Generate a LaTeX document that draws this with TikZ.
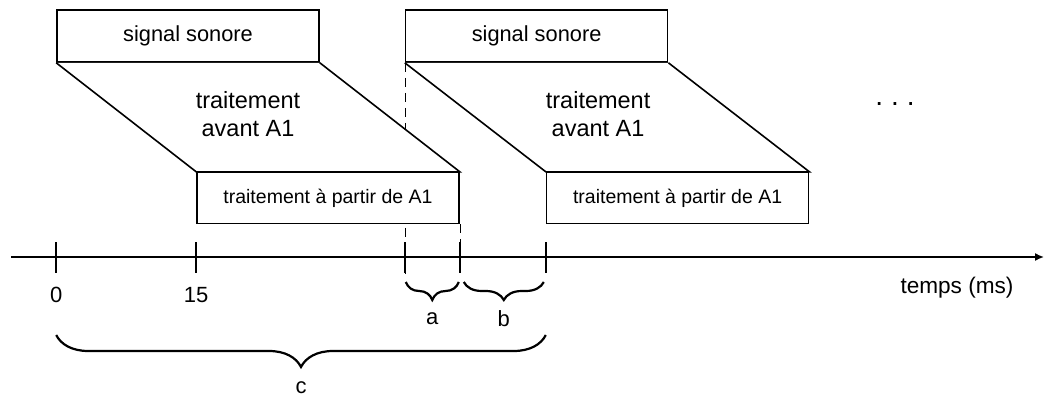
\documentclass[tikz,border=0pt]{standalone}
\usepackage{fontspec}
\setmainfont{Liberation Sans}
\usetikzlibrary{positioning,calc,arrows.meta,decorations.pathreplacing}
\pgfdeclarelayer{background}
\pgfsetlayers{background,main}
\tikzset{
  box/.style={draw,fill=white,minimum width=262pt,inner sep=0pt},
  sig/.style={box,minimum height=52pt,font=\fontsize{21.8}{25}\selectfont},
  trt/.style={box,minimum height=51pt,font=\fontsize{19.5}{23}\selectfont},
  lbl/.style={font=\fontsize{22}{28}\selectfont},
  avt/.style={align=center,font=\fontsize{23.5}{28}\selectfont},
  brc/.style={decorate,decoration={brace,mirror,amplitude=#1},line width=2.2pt},
  dsh/.style={dash pattern=on 9pt off 6pt},
}

\begin{document}
\begin{tikzpicture}[x=1pt,y=-1pt,line width=1.6pt]
\useasboundingbox (0,0) rectangle (1045,396);
% blocs
\node[sig] (sig1) at (188,36) {signal sonore};
\node[trt,below right=109pt and 140pt of sig1.south west] (trt1) {traitement \`a partir de A1};
\node[sig,right=85pt of sig1] (sig2) {signal sonore};
\node[trt,below right=109pt and 141pt of sig2.south west] (trt2) {traitement \`a partir de A1};
\filldraw[fill=white] (sig1.south west) -- (trt1.north west) -- (trt1.north east) -- (sig1.south east);
\filldraw[fill=white] (sig2.south west) -- (trt2.north west) -- (trt2.north east) -- (sig2.south east);
\node[avt] (av1) at ($(sig1.south)!0.5!(trt1.north)+(-10,-3)$) {traitement\\avant A1};
\node[avt] (av2) at ($(sig2.south)!0.5!(trt2.north)+(-9,-3)$) {traitement\\avant A1};
\node[font=\fontsize{28}{30}\selectfont,anchor=base] (dots) at (895,106) {.\hspace{8pt}.\hspace{8pt}.};
% axe
\coordinate (o) at (11,257);
\coordinate (fin) at (1044,257);
\draw[-{Latex[length=9pt,width=8pt]}] (o) -- (fin);
\coordinate (t0) at (sig1.south west |- o);
\coordinate (t15) at (trt1.south west |- o);
\coordinate (ta) at (sig2.south west |- o);
\coordinate (tb) at (trt1.south east |- o);
\coordinate (tc) at (trt2.south west |- o);
\foreach \t in {t0,t15,ta,tb,tc}
  \draw ($(\t)+(0,-15)$) -- ($(\t)+(0,16)$);
\begin{pgfonlayer}{background}
  \draw[dsh] (sig2.south west) -- ($(ta)+(0,16)$);
  \draw[dsh] (trt1.south east) -- ($(tb)+(0,16)$);
\end{pgfonlayer}
\node[lbl] (l0) at ($(t0)+(0,38)$) {0};
\node[lbl] (l15) at ($(t15)+(0,38)$) {15};
\node[lbl,font=\fontsize{22.6}{28}\selectfont] (tps) at (957,288) {temps (ms)};
% accolades
\draw[brc=18pt] ($(ta)+(1,25)$) -- ($(tb)+(-1,25)$);
\draw[brc=18pt] ($(tb)+(4,25)$) -- ($(tc)+(-2,25)$);
\draw[brc=32pt] ($(t0)+(0,78)$) -- ($(tc)+(0,78)$);
\node[lbl] (la) at ($(ta)!0.5!(tb)+(0,62)$) {a};
\node[lbl] (lb) at ($(tb)!0.5!(tc)+(1,62)$) {b};
\node[lbl,anchor=base] (lc) at ($(t0)!0.5!(tc)+(0,136)$) {c};
\end{tikzpicture}
\end{document}
